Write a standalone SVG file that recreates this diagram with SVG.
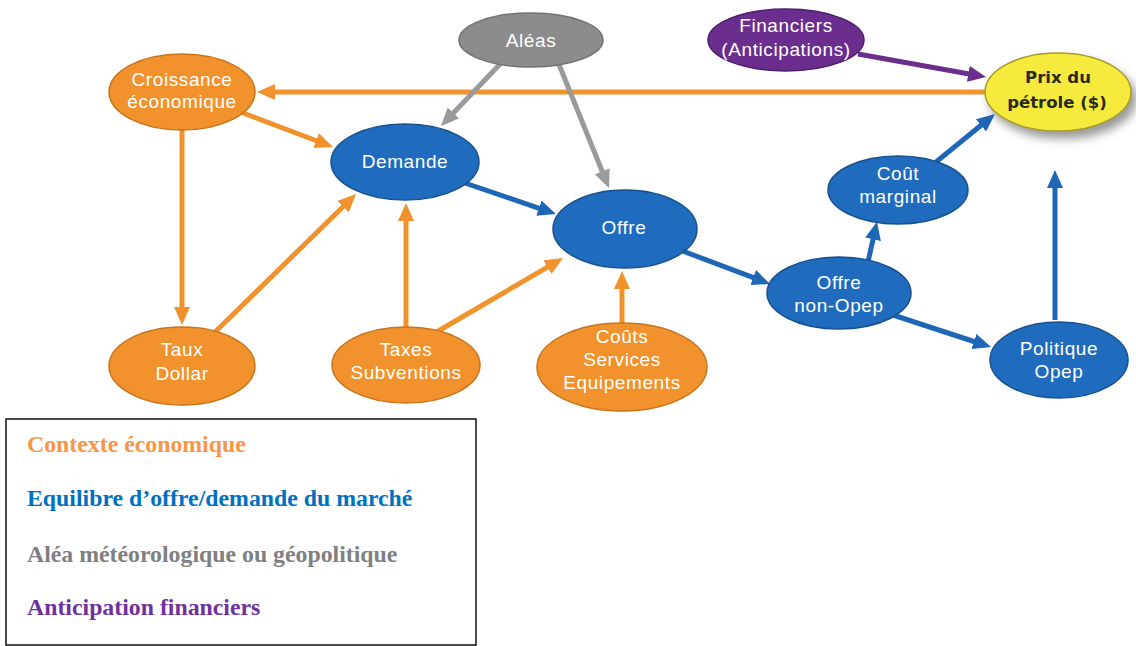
<svg xmlns="http://www.w3.org/2000/svg" width="1136" height="646" viewBox="0 0 1136 646">
<style>
.n text{font-family:"Liberation Sans",Arial,sans-serif;font-size:19px;fill:#fff;text-anchor:middle;letter-spacing:0.6px}
.or ellipse{fill:#f1922c;stroke:#c8741c;stroke-width:1.5}
.bl ellipse{fill:#1f6cbe;stroke:#17508c;stroke-width:1.5}
.gr ellipse{fill:#8c8c8c;stroke:#707070;stroke-width:1.5}
.pu ellipse{fill:#6b2e8f;stroke:#4d1f69;stroke-width:1.5}
.c line{stroke-width:5;fill:none}
.co{stroke:#f1922c}
.cb{stroke:#1e66b6}
.cg{stroke:#9a9a9a}
.cp{stroke:#6b2e8f}
.lg{font-family:"Liberation Serif","Times New Roman",serif;font-weight:bold;font-size:23.8px}
</style>
<defs>
<marker id="ao" markerUnits="userSpaceOnUse" markerWidth="18" markerHeight="16" viewBox="0 0 18 16" refX="8" refY="8" orient="auto"><path d="M0,0 L18,8 L0,16 z" fill="#f1922c"/></marker>
<marker id="ab" markerUnits="userSpaceOnUse" markerWidth="18" markerHeight="16" viewBox="0 0 18 16" refX="8" refY="8" orient="auto"><path d="M0,0 L18,8 L0,16 z" fill="#1e66b6"/></marker>
<marker id="ag" markerUnits="userSpaceOnUse" markerWidth="18" markerHeight="16" viewBox="0 0 18 16" refX="8" refY="8" orient="auto"><path d="M0,0 L18,8 L0,16 z" fill="#9a9a9a"/></marker>
<marker id="ap" markerUnits="userSpaceOnUse" markerWidth="18" markerHeight="16" viewBox="0 0 18 16" refX="8" refY="8" orient="auto"><path d="M0,0 L18,8 L0,16 z" fill="#6b2e8f"/></marker>
<filter id="sh" x="-30%" y="-30%" width="170%" height="180%"><feDropShadow dx="5" dy="7" stdDeviation="5" flood-color="#555" flood-opacity="0.6"/></filter>
</defs>
<rect width="1136" height="646" fill="#fff"/>

<g id="connectors" class="c">
<line class="co" x1="990" y1="92" x2="267" y2="92" marker-end="url(#ao)"/>
<line class="co" x1="238" y1="111" x2="323.6" y2="143.5" marker-end="url(#ao)"/>
<line class="co" x1="182" y1="128" x2="182" y2="315" marker-end="url(#ao)"/>
<line class="co" x1="211" y1="336" x2="348.9" y2="201" marker-end="url(#ao)"/>
<line class="co" x1="406" y1="330" x2="406" y2="213" marker-end="url(#ao)"/>
<line class="co" x1="433" y1="334" x2="554.4" y2="263.1" marker-end="url(#ao)"/>
<line class="co" x1="622" y1="326" x2="622" y2="281" marker-end="url(#ao)"/>
<line class="cg" x1="502" y1="62" x2="447.9" y2="118.8" marker-end="url(#ag)"/>
<line class="cg" x1="558" y1="62" x2="605.2" y2="178.7" marker-end="url(#ag)"/>
<line class="cb" x1="462" y1="182" x2="546.5" y2="210.8" marker-end="url(#ab)"/>
<line class="cb" x1="680" y1="250" x2="760.7" y2="280.4" marker-end="url(#ab)"/>
<line class="cb" x1="868" y1="262" x2="874.8" y2="231.5" marker-end="url(#ab)"/>
<line class="cb" x1="936" y1="162" x2="987.2" y2="120.3" marker-end="url(#ab)"/>
<line class="cb" x1="893" y1="315" x2="981.5" y2="344" marker-end="url(#ab)"/>
<line class="cb" x1="1055" y1="320" x2="1055" y2="180" marker-end="url(#ab)"/>
<line class="cp" x1="858" y1="54" x2="976.2" y2="75.2" marker-end="url(#ap)"/>
</g>

<g id="croissance" class="n or"><ellipse cx="182" cy="92" rx="73" ry="38"/><text x="182" y="86">Croissance</text><text x="182" y="108">économique</text></g>
<g id="aleas" class="n gr"><ellipse cx="531" cy="40" rx="72" ry="27"/><text x="531" y="47">Aléas</text></g>
<g id="financiers" class="n pu"><ellipse cx="786" cy="40" rx="78" ry="31"/><text x="786" y="32">Financiers</text><text x="786" y="56">(Anticipations)</text></g>
<g id="prix"><ellipse cx="1058" cy="92" rx="73" ry="39" fill="#f6eb3e" stroke="#a89b2a" stroke-width="1.5" filter="url(#sh)"/><text x="1058" y="83" font-family="'DejaVu Sans',sans-serif" font-weight="bold" font-size="16.5px" fill="#2a2a1a" text-anchor="middle">Prix du</text><text x="1057" y="108" font-family="'DejaVu Sans',sans-serif" font-weight="bold" font-size="16.5px" fill="#2a2a1a" text-anchor="middle">pétrole ($)</text></g>
<g id="demande" class="n bl"><ellipse cx="405" cy="162" rx="74" ry="38"/><text x="405" y="168">Demande</text></g>
<g id="offre" class="n bl"><ellipse cx="625" cy="229" rx="72" ry="39"/><text x="624" y="234">Offre</text></g>
<g id="cout-marginal" class="n bl"><ellipse cx="898" cy="190" rx="70" ry="34"/><text x="898" y="180">Coût</text><text x="898" y="203">marginal</text></g>
<g id="offre-non-opep" class="n bl"><ellipse cx="839" cy="293" rx="72" ry="36"/><text x="839" y="289">Offre</text><text x="839" y="312">non-Opep</text></g>
<g id="politique-opep" class="n bl"><ellipse cx="1059" cy="360" rx="69" ry="38"/><text x="1059" y="355">Politique</text><text x="1059" y="378">Opep</text></g>
<g id="taux-dollar" class="n or"><ellipse cx="182" cy="366" rx="73" ry="39"/><text x="182" y="356">Taux</text><text x="182" y="380">Dollar</text></g>
<g id="taxes" class="n or"><ellipse cx="406" cy="365" rx="74" ry="38"/><text x="406" y="356">Taxes</text><text x="406" y="379">Subventions</text></g>
<g id="couts" class="n or"><ellipse cx="622" cy="367" rx="85" ry="44"/><text x="622" y="343">Coûts</text><text x="622" y="366">Services</text><text x="622" y="389">Equipements</text></g>

<g id="legend">
<rect x="6" y="419" width="470" height="226" fill="#fff" stroke="#111" stroke-width="1.5"/>
<text class="lg" x="27" y="452" fill="#f79646">Contexte économique</text>
<text class="lg" x="27" y="506" fill="#0070c0">Equilibre d’offre/demande du marché</text>
<text class="lg" x="27" y="562" fill="#808080">Aléa météorologique ou géopolitique</text>
<text class="lg" x="27" y="615" fill="#7030a0">Anticipation financiers</text>
</g>
</svg>
